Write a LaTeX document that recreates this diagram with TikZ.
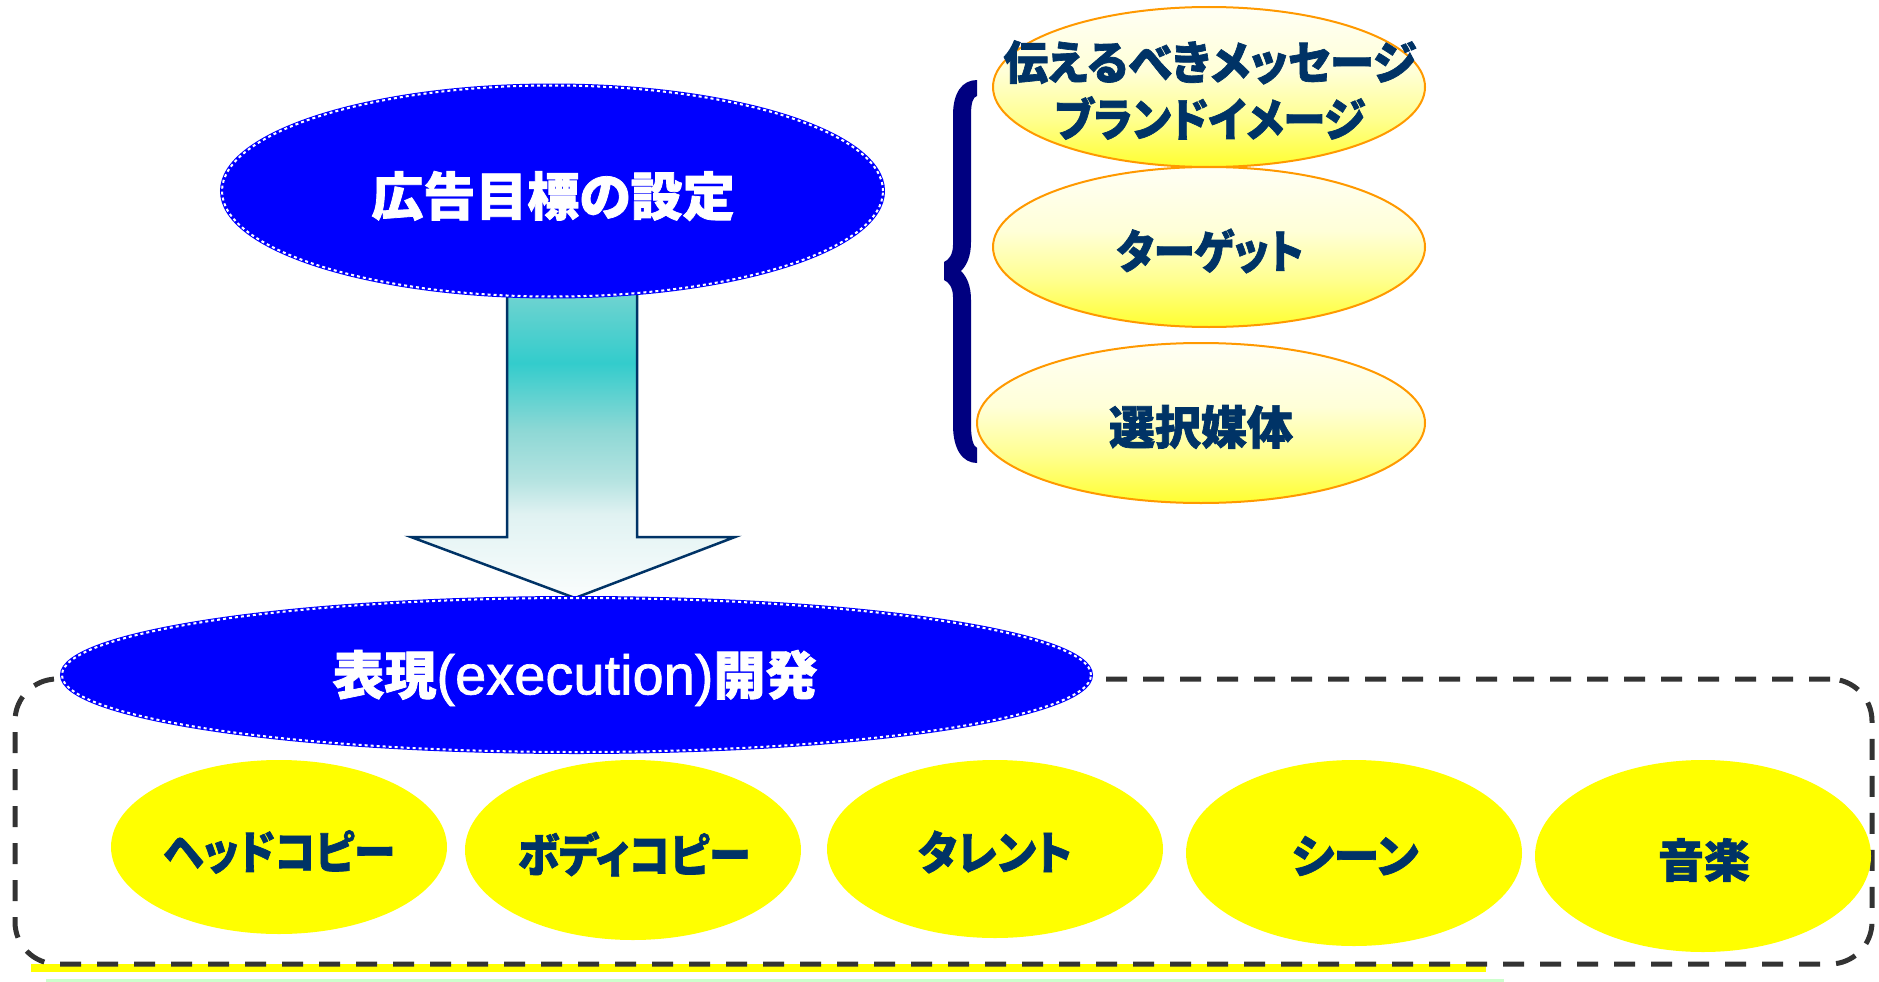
\documentclass[tikz,border=0pt]{standalone}
\usepackage{fontspec}
\usetikzlibrary{shapes.geometric}
\newfontfamily\jp[RawFeature={+palt},BoldFeatures={FakeBold=1.5}]{Noto Sans CJK JP}
\newfontfamily\lat[FakeBold=1.2]{Liberation Sans}
\definecolor{navy}{HTML}{003366}
\definecolor{bracecol}{HTML}{000080}
\definecolor{orng}{HTML}{FF9900}
\definecolor{dashcol}{HTML}{333333}
\definecolor{lgreen}{HTML}{CCFFCC}
\definecolor{pureyellow}{RGB}{255,255,0}
\definecolor{pureblue}{RGB}{0,0,255}
\definecolor{aa}{HTML}{FAFDFD}
\definecolor{ab}{HTML}{E0F2F2}
\definecolor{ac}{HTML}{B5E3E1}
\definecolor{ad}{HTML}{8ED8D5}
\definecolor{ae}{HTML}{33CCCC}
\definecolor{af}{HTML}{6DD3D0}
\definecolor{ag}{HTML}{80D8D5}
\definecolor{ya}{HTML}{FFFF30}
\definecolor{yb}{HTML}{FFFF90}
\definecolor{yc}{HTML}{FFFFD8}
\definecolor{yd}{HTML}{FFFFF5}
\pgfdeclareverticalshading{arrowshade}{100bp}{color(0bp)=(aa); color(25bp)=(aa); color(37.8bp)=(ab); color(42.9bp)=(ac); color(50.5bp)=(ad); color(60.8bp)=(ae); color(70.9bp)=(af); color(75bp)=(ag); color(100bp)=(ag)}
\pgfdeclareverticalshading{yshade}{100bp}{color(0bp)=(ya); color(25bp)=(ya); color(40bp)=(yb); color(55bp)=(yc); color(75bp)=(yd); color(100bp)=(yd)}
\tikzset{
  blueell/.style={ellipse, inner sep=0pt, fill=pureblue, draw=pureblue, line width=4pt,
    postaction={draw=white, line width=2pt, dash pattern=on 3pt off 3pt}},
  rightell/.style={ellipse, inner sep=0pt, shading=yshade, draw=orng, line width=2pt,
    minimum width=432pt, minimum height=160pt},
  rowell/.style={ellipse, inner sep=0pt, fill=pureyellow, minimum width=336pt},
  navytxt/.style={inner sep=0pt, text=navy, font=\fontsize{46pt}{57pt}\selectfont\jp\bfseries, align=center},
  whitetxt/.style={inner sep=0pt, text=white},
  frame/.style={rectangle, draw=dashcol, line width=5pt, dash pattern=on 21pt off 16pt,
    rounded corners=42pt, inner sep=0pt}
}
\begin{document}
\begin{tikzpicture}[x=1pt,y=-1pt]
\useasboundingbox (0,0) rectangle (1879,982);
% bottom lines
\draw[pureyellow, line width=8pt] (31,968) -- (1486,968);
\draw[lgreen, line width=3pt] (46,980.5) -- (1504,980.5);
% dashed frame
\node[frame, minimum width=1857pt, minimum height=285pt] (frame) at (943.5,821.5) {};
% bottom row ellipses
\node[rowell, minimum height=174pt] (r1) at (279,847) {};
\node[rowell, minimum height=180pt] (r2) at (633,850) {};
\node[rowell, minimum height=178pt] (r3) at (995,849) {};
\node[rowell, minimum height=186pt] (r4) at (1354,853) {};
\node[rowell, minimum height=192pt] (r5) at (1703,856) {};
\node[navytxt] (t1) at (279,852) {\scalebox{0.9}[1]{ヘッドコピー}};
\node[navytxt] (t2) at (634,854) {\scalebox{0.91}[1]{ボディコピー}};
\node[navytxt] (t3) at (995,852) {\scalebox{0.93}[1]{タレント}};
\node[navytxt] (t4) at (1355,856) {シーン};
\node[navytxt] (t5) at (1704,860) {音楽};
% block arrow
\path[shading=arrowshade, draw=navy, line width=2.5pt, line join=miter]
  (507,270) -- (507,537) -- (411,537) -- (575,598) -- (735,537) -- (637,537) -- (637,270) -- cycle;
% blue ellipses
\node[blueell, minimum width=661pt, minimum height=211pt] (goal) at (552.5,191) {};
\node[whitetxt, font=\fontsize{52pt}{60pt}\selectfont\jp\bfseries] (goaltxt) at (553,196) {広告目標の設定};
\node[blueell, minimum width=1029pt, minimum height=154pt] (exec) at (576.5,675) {};
\node[whitetxt] (exectxt) at (575,678) {{\fontsize{52pt}{60pt}\selectfont\jp\bfseries 表現}{\fontsize{56pt}{60pt}\selectfont\lat (execution)}{\fontsize{52pt}{60pt}\selectfont\jp\bfseries 開発}};
% right ellipses
\node[rightell] (msg) at (1209,87) {};
\node[rightell] (tgt) at (1209,247) {};
\node[rightell, minimum width=448pt] (media) at (1201,423) {};
\node[navytxt] (msgtxt) at (1210,90) {\scalebox{0.97}[1]{伝えるべきメッセージ}\\\scalebox{0.92}[1]{ブランドイメージ}};
\node[navytxt] (tgttxt) at (1210,251) {\scalebox{0.9}[1]{ターゲット}};
\node[navytxt] (mediatxt) at (1201,427) {選択媒体};
% brace
\fill[bracecol] (977,80) .. controls (962,80) and (953,93) .. (953,115) -- (953,245)
  .. controls (953,254) and (949,260) .. (944,262) -- (944,280)
  .. controls (949,282) and (953,288) .. (953,297) -- (953,425)
  .. controls (953,450) and (963,463) .. (977,463) -- (977,448)
  .. controls (973,446) and (971,438) .. (971,425) -- (971,300)
  .. controls (971,286) and (967,277) .. (961,271)
  .. controls (967,265) and (971,256) .. (971,242) -- (971,115)
  .. controls (971,103) and (973,97) .. (977,96) -- cycle;
\end{tikzpicture}
\end{document}
